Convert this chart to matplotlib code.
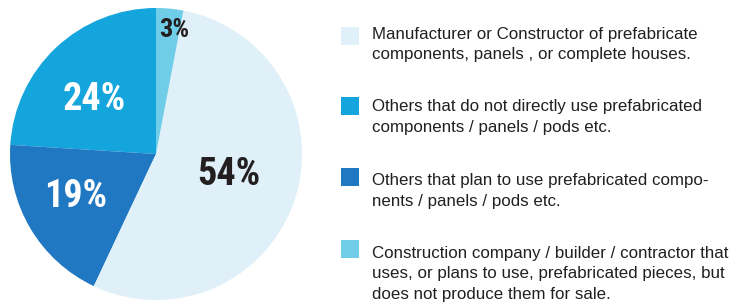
import matplotlib
matplotlib.use('Agg')
import numpy as np
import matplotlib.pyplot as plt
from matplotlib.patches import Rectangle

# slice data, counter-clockwise from the top
shares = [24, 19, 54, 3]
slice_colors = ['#14a5dc', '#1f78c1', '#dff0f8', '#70cde8']
pct_colors = ['white', 'white', '#231f20', '#231f20']
pct_sizes = [27.5, 27.5, 27.5, 19]
# label placement: fraction of radius and turn from the wedge middle (deg)
pct_dist = [0.52, 0.66, 0.54, 0.81]
pct_turn = [11.4, 2.8, -5.2, -3.3]

# legend entries (top to bottom)
legend_labels = [
    "Manufacturer or Constructor of prefabricate\ncomponents, panels , or complete houses.",
    "Others that do not directly use prefabricated\ncomponents / panels / pods etc.",
    "Others that plan to use prefabricated compo-\nnents / panels / pods etc.",
    "Construction company / builder / contractor that\nuses, or plans to use, prefabricated pieces, but\ndoes not produce them for sale.",
]
legend_colors = ['#dff0f8', '#14a5dc', '#1f78c1', '#70cde8']

W, H = 744, 302
fig = plt.figure(figsize=(W / 100, H / 100), dpi=100)

cx, cy, r = 156, 154, 146
ax = fig.add_axes([(cx - r) / W, (H - cy - r) / H, 2 * r / W, 2 * r / H])
wedges, _ = ax.pie(shares, colors=slice_colors, startangle=90, counterclock=True,
                   radius=1, wedgeprops=dict(linewidth=0))
ax.set_xlim(-1, 1)
ax.set_ylim(-1, 1)
ax.axis('off')

cond = ['Roboto Condensed', 'Archivo Narrow', 'DejaVu Sans']
for w, s, c, fs, d, t in zip(wedges, shares, pct_colors, pct_sizes, pct_dist, pct_turn):
    ang = np.deg2rad((w.theta1 + w.theta2) / 2 + t)
    ax.text(d * np.cos(ang), d * np.sin(ang), f"{s}%", color=c, fontsize=fs,
            fontweight='bold', family=cond, ha='center', va='baseline')

# legend drawn by hand so the squares line up with the first text line
box_tops = [27, 97, 168, 240]
text_tops = [26.5, 99.5, 173.5, 246]
for top, ttop, lab, col in zip(box_tops, text_tops, legend_labels, legend_colors):
    fig.patches.append(Rectangle((341 / W, (H - top - 18) / H), 18 / W, 18 / H,
                                 transform=fig.transFigure, facecolor=col,
                                 edgecolor='none'))
    fig.text(372 / W, (H - ttop) / H, lab, fontsize=12.2, color='#231f20',
             family='Liberation Sans', ha='left', va='top', linespacing=1.45)

fig.savefig('out.png', dpi=100)
